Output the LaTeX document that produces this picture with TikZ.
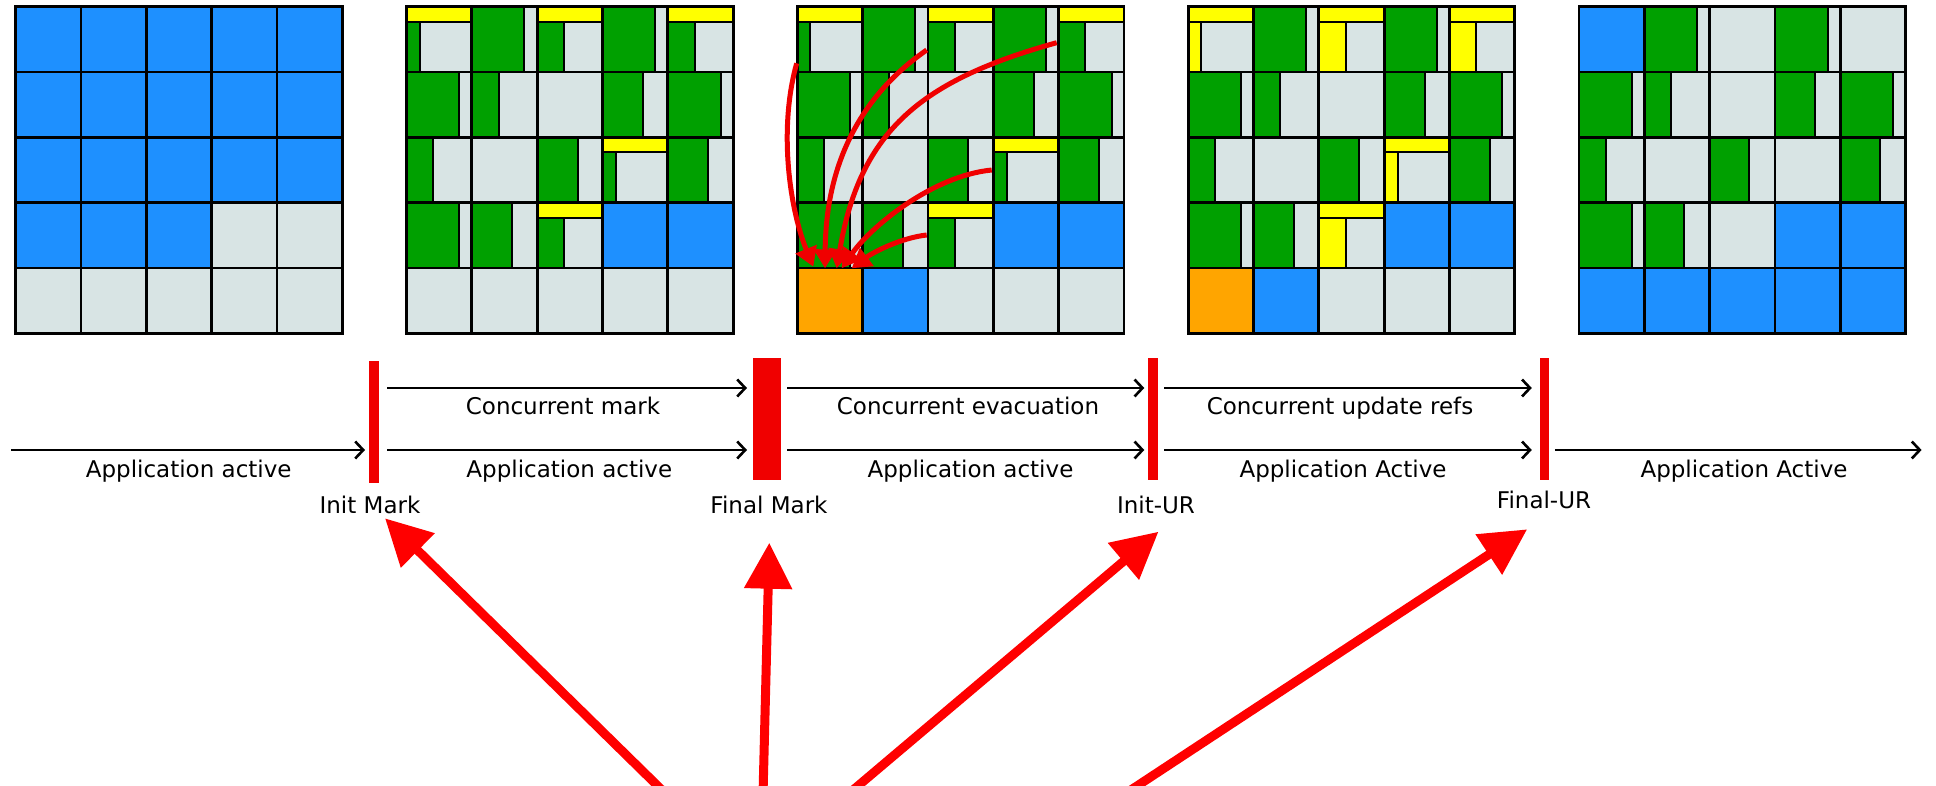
\documentclass[tikz,border=0pt]{standalone}
\usepackage{fontspec}
\setmainfont{DejaVu Sans}
\usetikzlibrary{arrows.meta}
\definecolor{cblue}{RGB}{30,144,255}
\definecolor{cgreen}{RGB}{0,160,0}
\definecolor{cgrey}{RGB}{216,228,228}
\definecolor{cyel}{RGB}{255,255,0}
\definecolor{corange}{RGB}{255,165,0}
\definecolor{cred}{RGB}{240,0,0}
\newcommand\cellsz{65.33}
\newcommand\gridy{6.7}
% full cell: ox r c color
\newcommand\fcell[4]{\draw[cellst,fill=#4] ({#1+#3*\cellsz},{\gridy+#2*\cellsz}) rectangle ({#1+(#3+1)*\cellsz},{\gridy+(#2+1)*\cellsz});}
% split cell: ox r c frac leftcolor
\newcommand\scell[5]{%
 \draw[cellst,fill=#5] ({#1+#3*\cellsz},{\gridy+#2*\cellsz}) rectangle ({#1+(#3+#4)*\cellsz},{\gridy+(#2+1)*\cellsz});
 \draw[cellst,fill=cgrey] ({#1+(#3+#4)*\cellsz},{\gridy+#2*\cellsz}) rectangle ({#1+(#3+1)*\cellsz},{\gridy+(#2+1)*\cellsz});}
% yellow-top cell: ox r c frac leftcolor
\newcommand\ycell[5]{%
 \draw[cellst,fill=cyel] ({#1+#3*\cellsz},{\gridy+#2*\cellsz}) rectangle ({#1+(#3+1)*\cellsz},{\gridy+(#2+0.23)*\cellsz});
 \draw[cellst,fill=#5] ({#1+#3*\cellsz},{\gridy+(#2+0.23)*\cellsz}) rectangle ({#1+(#3+#4)*\cellsz},{\gridy+(#2+1)*\cellsz});
 \draw[cellst,fill=cgrey] ({#1+(#3+#4)*\cellsz},{\gridy+(#2+0.23)*\cellsz}) rectangle ({#1+(#3+1)*\cellsz},{\gridy+(#2+1)*\cellsz});}
\newcommand\midrows[2]{%
 \ycell{#1}{0}{0}{0.2}{#2}\scell{#1}{0}{1}{0.8}{cgreen}\ycell{#1}{0}{2}{0.41}{#2}\scell{#1}{0}{3}{0.81}{cgreen}\ycell{#1}{0}{4}{0.41}{#2}
 \scell{#1}{1}{0}{0.81}{cgreen}\scell{#1}{1}{1}{0.41}{cgreen}\fcell{#1}{1}{2}{cgrey}\scell{#1}{1}{3}{0.62}{cgreen}\scell{#1}{1}{4}{0.81}{cgreen}
 \scell{#1}{2}{0}{0.41}{cgreen}\fcell{#1}{2}{1}{cgrey}\scell{#1}{2}{2}{0.62}{cgreen}\ycell{#1}{2}{3}{0.21}{#2}\scell{#1}{2}{4}{0.62}{cgreen}
 \scell{#1}{3}{0}{0.81}{cgreen}\scell{#1}{3}{1}{0.62}{cgreen}\ycell{#1}{3}{2}{0.41}{#2}\fcell{#1}{3}{3}{cblue}\fcell{#1}{3}{4}{cblue}}
\newcommand\gridlines[1]{%
 \foreach \i in {0,...,5}{%
  \draw[gridst] ({#1+\i*\cellsz},\gridy) -- ({#1+\i*\cellsz},{\gridy+5*\cellsz});
  \draw[gridst] (#1,{\gridy+\i*\cellsz}) -- ({#1+5*\cellsz},{\gridy+\i*\cellsz});}}
\tikzset{
 cellst/.style={draw=black, line width=2pt},
 gridst/.style={draw=black, line width=2.8pt, line cap=rect},
 bar/.style={fill=cred, draw=none, inner sep=0pt, outer sep=0pt},
 tl/.style={draw=black, line width=2.6pt, -{Straight Barb[length=8pt,width=17pt]}},
 lbl/.style={font=\fontsize{23}{28}\selectfont, inner sep=0pt, anchor=base},
 carrow/.style={draw=cred, line width=5pt, -{Triangle[length=19pt,width=22pt]}},
 barrow/.style={draw=red, line width=9pt, -{Triangle[length=46pt,width=46pt]}},
}
\begin{document}
\begin{tikzpicture}[x=1pt,y=-1pt]
\useasboundingbox (0,0) rectangle (1936,786);
\fill[white] (0,0) rectangle (1936,786);
% ---- grid 1
\foreach \r in {0,1,2}{\foreach \c in {0,...,4}{\fcell{15.7}{\r}{\c}{cblue}}}
\fcell{15.7}{3}{0}{cblue}\fcell{15.7}{3}{1}{cblue}\fcell{15.7}{3}{2}{cblue}\fcell{15.7}{3}{3}{cgrey}\fcell{15.7}{3}{4}{cgrey}
\foreach \c in {0,...,4}{\fcell{15.7}{4}{\c}{cgrey}}
\gridlines{15.7}
% ---- grid 2
\midrows{406.5}{cgreen}
\foreach \c in {0,...,4}{\fcell{406.5}{4}{\c}{cgrey}}
\gridlines{406.5}
% ---- grid 3
\midrows{797.3}{cgreen}
\fcell{797.3}{4}{0}{corange}\fcell{797.3}{4}{1}{cblue}\fcell{797.3}{4}{2}{cgrey}\fcell{797.3}{4}{3}{cgrey}\fcell{797.3}{4}{4}{cgrey}
\gridlines{797.3}
% ---- grid 4
\midrows{1188.1}{cyel}
\fcell{1188.1}{4}{0}{corange}\fcell{1188.1}{4}{1}{cblue}\fcell{1188.1}{4}{2}{cgrey}\fcell{1188.1}{4}{3}{cgrey}\fcell{1188.1}{4}{4}{cgrey}
\gridlines{1188.1}
% ---- grid 5
\fcell{1578.9}{0}{0}{cblue}\scell{1578.9}{0}{1}{0.8}{cgreen}\fcell{1578.9}{0}{2}{cgrey}\scell{1578.9}{0}{3}{0.81}{cgreen}\fcell{1578.9}{0}{4}{cgrey}
\scell{1578.9}{1}{0}{0.81}{cgreen}\scell{1578.9}{1}{1}{0.41}{cgreen}\fcell{1578.9}{1}{2}{cgrey}\scell{1578.9}{1}{3}{0.62}{cgreen}\scell{1578.9}{1}{4}{0.81}{cgreen}
\scell{1578.9}{2}{0}{0.41}{cgreen}\fcell{1578.9}{2}{1}{cgrey}\scell{1578.9}{2}{2}{0.61}{cgreen}\fcell{1578.9}{2}{3}{cgrey}\scell{1578.9}{2}{4}{0.61}{cgreen}
\scell{1578.9}{3}{0}{0.81}{cgreen}\scell{1578.9}{3}{1}{0.61}{cgreen}\fcell{1578.9}{3}{2}{cgrey}\fcell{1578.9}{3}{3}{cblue}\fcell{1578.9}{3}{4}{cblue}
\foreach \c in {0,...,4}{\fcell{1578.9}{4}{\c}{cblue}}
\gridlines{1578.9}
% ---- evacuation arrows in grid 3
\coordinate (r1s) at (796.7,63.3);  \coordinate (r1e) at (813.3,266.7);
\coordinate (r2s) at (926.7,50);    \coordinate (r2e) at (825,268.3);
\coordinate (r3s) at (1056.7,42.7); \coordinate (r3e) at (836.7,268.3);
\coordinate (r4s) at (991.7,170);   \coordinate (r4e) at (841.7,268.3);
\coordinate (r5s) at (926.7,235);   \coordinate (r5e) at (851.7,268.3);
\draw[carrow] (r1s) .. controls (778,130) and (790,210) .. (r1e);
\draw[carrow] (r2s) .. controls (872,88) and (826,150) .. (r2e);
\draw[carrow] (r3s) .. controls (922,80) and (860,130) .. (r3e);
\draw[carrow] (r4s) .. controls (931.7,176) and (870.7,227) .. (r4e);
\draw[carrow] (r5s) .. controls (900,238) and (872,253) .. (r5e);
% ---- timeline
\node[bar, minimum width=10pt, minimum height=122pt] (b1) at (374,421.7) {};
\node[bar, minimum width=28pt, minimum height=122pt] (b2) at (767,419) {};
\node[bar, minimum width=10pt, minimum height=122pt] (b3) at (1153.3,419) {};
\node[bar, minimum width=9pt, minimum height=122pt] (b4) at (1544.3,419) {};
\coordinate (s0) at (11,450);
\coordinate (e5) at (1921.6,450);
\coordinate (up) at (0,388);
\draw[tl, shorten >=4pt] (s0) -- (b1.west |- s0);
\draw[tl, shorten <=8pt, shorten >=6pt] (b1.east |- s0) -- (b2.west |- s0);
\draw[tl, shorten <=6pt, shorten >=4pt] (b2.east |- s0) -- (b3.west |- s0);
\draw[tl, shorten <=6pt, shorten >=8pt] (b3.east |- s0) -- (b4.west |- s0);
\draw[tl, shorten <=6pt] (b4.east |- s0) -- (e5);
\draw[tl, shorten <=8pt, shorten >=6pt] (b1.east |- up) -- (b2.west |- up);
\draw[tl, shorten <=6pt, shorten >=4pt] (b2.east |- up) -- (b3.west |- up);
\draw[tl, shorten <=6pt, shorten >=8pt] (b3.east |- up) -- (b4.west |- up);
% labels
\node[lbl] (a1) at (188.7,477) {Application active};
\node[lbl] (a2) at (569.3,477) {Application active};
\node[lbl] (a3) at (970.5,477) {Application active};
\node[lbl] (a4) at (1343,477) {Application Active};
\node[lbl] (a5) at (1744,477) {Application Active};
\node[lbl] (c1) at (563,414) {Concurrent mark};
\node[lbl] (c2) at (968,414) {Concurrent evacuation};
\node[lbl] (c3) at (1340,414) {Concurrent update refs};
\node[lbl] (p1) at (370,513.3) {Init Mark};
\node[lbl] (p2) at (769,513.3) {Final Mark};
\node[lbl] (p3) at (1156,513.3) {Init-UR};
\node[lbl] (p4) at (1544,508.3) {Final-UR};
% ---- big pointer arrows
\coordinate (ba1s) at (667,795);    \coordinate (ba1e) at (385,518.3);
\coordinate (ba2s) at (763,795);    \coordinate (ba2e) at (769.3,542.7);
\coordinate (ba3s) at (847.2,795);  \coordinate (ba3e) at (1158.5,531.7);
\coordinate (ba4s) at (1123.3,795); \coordinate (ba4e) at (1527.2,529.3);
\draw[barrow] (ba1s) -- (ba1e);
\draw[barrow] (ba2s) -- (ba2e);
\draw[barrow] (ba3s) -- (ba3e);
\draw[barrow] (ba4s) -- (ba4e);
\end{tikzpicture}
\end{document}
